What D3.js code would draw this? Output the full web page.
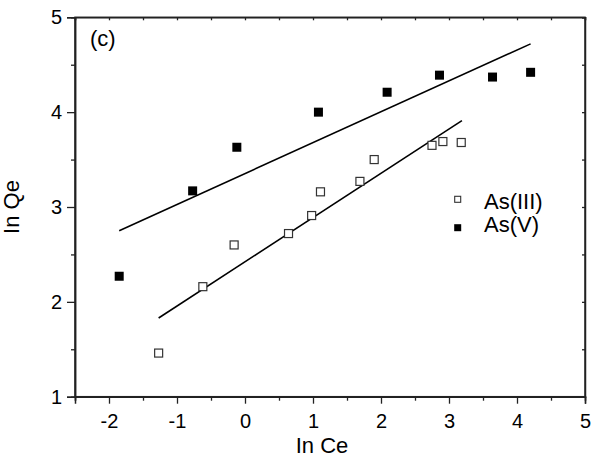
<!DOCTYPE html>
<html>
<head>
<meta charset="utf-8">
<script src="https://cdn.jsdelivr.net/npm/d3@7"></script>
<style>
  body { margin: 0; background: #fff; }
  svg { display: block; font-family: "Liberation Sans", Arial, sans-serif; }
</style>
</head>
<body>
<svg id="mainsvg" width="596" height="460"></svg>
<script>
// As(III) points
const ce3 = [-1.27, -0.62, -0.16, 0.64, 0.98, 1.11, 1.69, 1.90, 2.75, 2.91, 3.18];
const qe3 = [1.46, 2.16, 2.60, 2.72, 2.91, 3.16, 3.27, 3.50, 3.65, 3.69, 3.68];
// As(V) points
const ce5 = [-1.85, -0.77, -0.12, 1.08, 2.09, 2.86, 3.64, 4.20];
const qe5 = [2.27, 3.17, 3.63, 4.00, 4.21, 4.39, 4.37, 4.42];
// fitted lines (end points)
const fit3 = [[-1.27, 1.83], [3.19, 3.91]];
const fit5 = [[-1.85, 2.75], [4.20, 4.72]];

const xTicks = [-2, -1, 0, 1, 2, 3, 4, 5];
const yTicks = [1, 2, 3, 4, 5];

const svg = d3.select('#mainsvg');
const mLeft = 75, mRight = 585, mTop = 17.3, mBottom = 396.7;

const xScale = d3.scaleLinear().domain([-2.5, 5]).range([mLeft, mRight]);
const yScale = d3.scaleLinear().domain([1, 5]).range([mBottom, mTop]);

const xMinor = d3.range(-2.5, 5.01, 0.5).filter(v => !xTicks.includes(v));
const yMinor = d3.range(1, 5.01, 0.5).filter(v => !yTicks.includes(v));

// bottom axis
const gx = svg.append('g').attr('transform', `translate(0,${mBottom})`)
  .call(d3.axisBottom(xScale).tickValues(xTicks).tickSize(7).tickPadding(10).tickFormat(d => String(d)));
gx.append('g').call(d3.axisBottom(xScale).tickValues(xMinor).tickSize(4).tickFormat(''));

// left axis
const gy = svg.append('g').attr('transform', `translate(${mLeft},0)`)
  .call(d3.axisLeft(yScale).tickValues(yTicks).tickSize(8).tickPadding(5).tickFormat(d => String(d)));
gy.append('g').call(d3.axisLeft(yScale).tickValues(yMinor).tickSize(4).tickFormat(''));

// top and right axes, ticks inside
svg.append('g').attr('transform', `translate(0,${mTop})`)
  .call(d3.axisBottom(xScale).tickValues(d3.range(-2.5, 5.01, 0.5)).tickSize(3).tickFormat(''));
svg.append('g').attr('transform', `translate(${mRight},0)`)
  .call(d3.axisLeft(yScale).tickValues(d3.range(1, 5.01, 0.5)).tickSize(3).tickFormat(''));

svg.selectAll('.domain').attr('stroke', '#222').attr('stroke-width', 1.5);
svg.selectAll('.tick line').attr('stroke', '#222').attr('stroke-width', 1.3);
svg.selectAll('.tick text').style('font-size', '20px').attr('fill', '#000');

// frame
svg.append('rect')
  .attr('x', mLeft).attr('y', mTop)
  .attr('width', mRight - mLeft).attr('height', mBottom - mTop)
  .attr('fill', 'none').attr('stroke', '#222').attr('stroke-width', 1.5);

// labels
svg.append('text')
  .attr('x', 322).attr('y', 453)
  .attr('text-anchor', 'middle')
  .style('font-size', '22px')
  .text('In Ce');

svg.append('text')
  .attr('transform', 'rotate(-90)')
  .attr('x', -207).attr('y', 19)
  .attr('text-anchor', 'middle')
  .style('font-size', '22px')
  .text('In Qe');

svg.append('text')
  .attr('x', 90).attr('y', 46)
  .style('font-size', '22px')
  .text('(c)');

// fit lines
const line = d3.line().x(d => xScale(d[0])).y(d => yScale(d[1]));
[fit3, fit5].forEach(f => {
  svg.append('path').attr('d', line(f))
    .attr('fill', 'none').attr('stroke', '#000').attr('stroke-width', 1.6);
});

// points
const s = 9;
svg.append('g').selectAll('rect').data(d3.zip(ce3, qe3)).enter().append('rect')
  .attr('x', d => xScale(d[0]) - s / 2 + 0.5)
  .attr('y', d => yScale(d[1]) - s / 2 + 0.5)
  .attr('width', s - 1).attr('height', s - 1)
  .attr('fill', '#fff').attr('stroke', '#333').attr('stroke-width', 1.2);

svg.append('g').selectAll('rect').data(d3.zip(ce5, qe5)).enter().append('rect')
  .attr('x', d => xScale(d[0]) - s / 2)
  .attr('y', d => yScale(d[1]) - s / 2)
  .attr('width', s).attr('height', s)
  .attr('fill', '#000');

// legend
const ls = 7;
const lg = svg.append('g');
lg.append('rect').attr('x', 457.7 - ls / 2 + 0.5).attr('y', 199.3 - ls / 2 + 0.5)
  .attr('width', ls - 1).attr('height', ls - 1)
  .attr('fill', '#fff').attr('stroke', '#333').attr('stroke-width', 1.1);
lg.append('rect').attr('x', 457.7 - ls / 2).attr('y', 227.7 - ls / 2)
  .attr('width', ls).attr('height', ls).attr('fill', '#000');
lg.append('text').attr('x', 484).attr('y', 208.5).style('font-size', '22px').text('As(III)');
lg.append('text').attr('x', 484).attr('y', 232).style('font-size', '22px').text('As(V)');
</script>
</body>
</html>
